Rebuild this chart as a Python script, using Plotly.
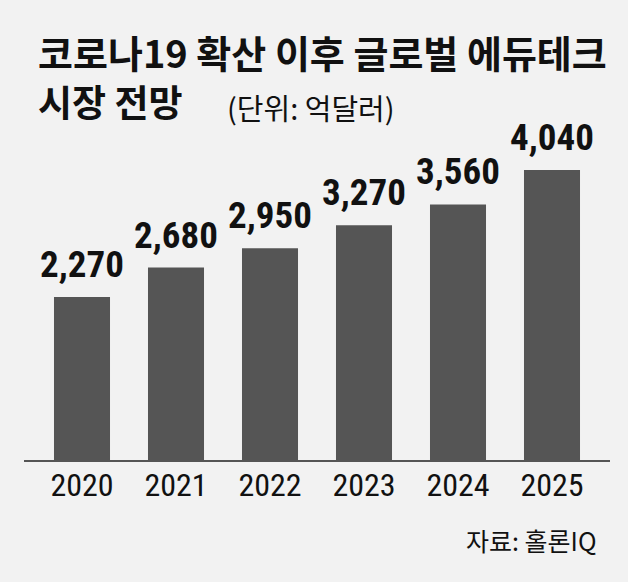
import plotly.graph_objects as go

years = ["2020", "2021", "2022", "2023", "2024", "2025"]
values = [2270, 2680, 2950, 3270, 3560, 4040]
value_labels = ["2,270", "2,680", "2,950", "3,270", "3,560", "4,040"]
title_line1 = "코로나19 확산 이후 글로벌 에듀테크"
title_line2 = "시장 전망"
unit_text = "(단위: 억달러)"
source_text = "자료: 홀론IQ"

W, H = 628, 582
L, R, T, B = 24, 18, 100, 122
pw, ph = W - L - R, H - T - B

def px(x):
    return (x - L) / pw

def py(y):
    return (H - B - y) / ph

num_font = "Liberation Sans Narrow, Arial Narrow, Roboto Condensed, Liberation Sans, Arial, sans-serif"
kr_font = "Noto Sans CJK KR, sans-serif"

fig = go.Figure()
fig.add_trace(go.Bar(
    x=years, y=values,
    marker=dict(color="#555555", line=dict(width=0)),
    hoverinfo="skip",
))

annotations = []
for i, (v, lab) in enumerate(zip(values, value_labels)):
    annotations.append(dict(
        x=i, y=v, xref="x", yref="y", text=f"<b>{lab}</b>", showarrow=False,
        yanchor="bottom", yshift=9,
        font=dict(family=num_font, size=37, color="#111111"),
    ))

annotations += [
    dict(x=px(36), y=py(51), xref="paper", yref="paper", xanchor="left", yanchor="middle",
         text=f"<b>{title_line1}</b>", showarrow=False,
         font=dict(family=kr_font, size=38, color="#111111")),
    dict(x=px(36), y=py(101), xref="paper", yref="paper", xanchor="left", yanchor="middle",
         text=f"<b>{title_line2}</b>", showarrow=False,
         font=dict(family=kr_font, size=37, color="#111111")),
    dict(x=px(225), y=py(107), xref="paper", yref="paper", xanchor="left", yanchor="middle",
         text=unit_text, showarrow=False,
         font=dict(family=kr_font, size=29, color="#111111")),
    dict(x=px(598), y=py(540), xref="paper", yref="paper", xanchor="right", yanchor="middle",
         text=source_text, showarrow=False,
         font=dict(family=kr_font, size=25, color="#111111")),
]

fig.update_layout(
    width=W, height=H,
    margin=dict(l=L, r=R, t=T, b=B, pad=0),
    paper_bgcolor="#f2f2f2", plot_bgcolor="#f2f2f2",
    bargap=0.404,
    showlegend=False,
    annotations=annotations,
)
fig.update_xaxes(
    type="category", range=[-0.617, 5.617],
    showline=True, linecolor="#555555", linewidth=1.5,
    showgrid=False, ticks="", ticklabelstandoff=-4,
    tickfont=dict(family=num_font, size=32, color="#111111"),
    fixedrange=True,
)
fig.update_yaxes(
    range=[0, 5014], visible=True, showticklabels=False, showline=False,
    showgrid=False, zeroline=False, ticks="", fixedrange=True,
)

fig.write_html("out.html", config={"displayModeBar": False})
